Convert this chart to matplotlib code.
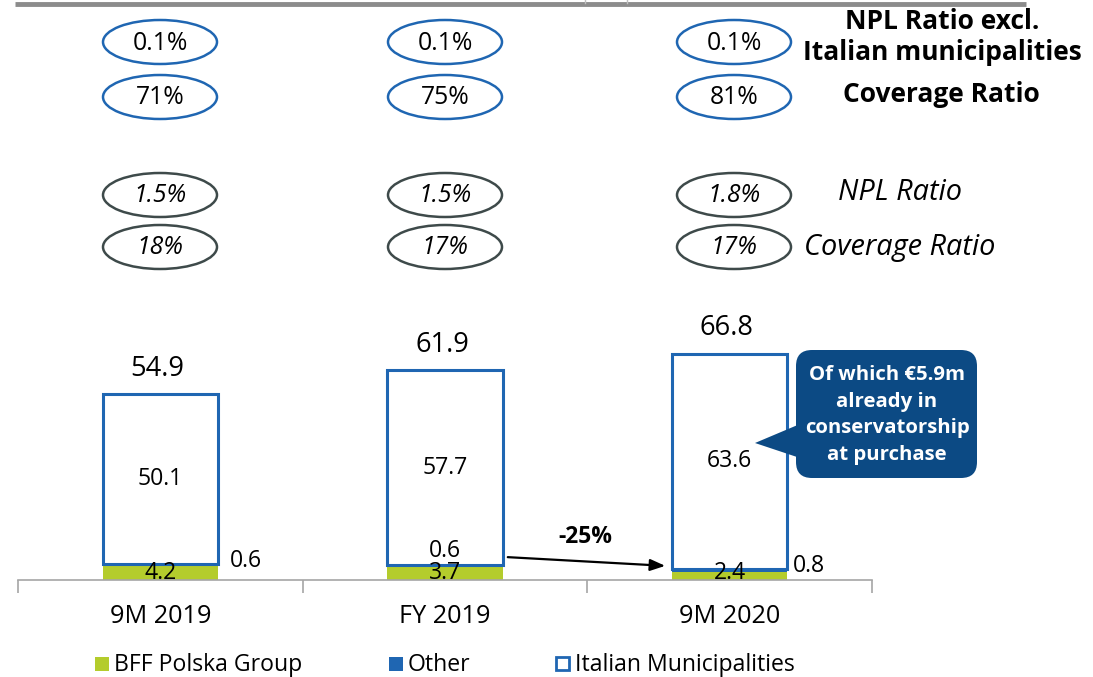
import matplotlib
matplotlib.use("Agg")
import matplotlib.pyplot as plt
from matplotlib.patches import Ellipse, FancyBboxPatch, Polygon, Rectangle

plt.rcParams['font.family'] = ['Open Sans', 'DejaVu Sans']

# data
periods = ["9M 2019", "FY 2019", "9M 2020"]
polska = [4.2, 3.7, 2.4]
other = [0.6, 0.6, 0.8]
italian = [50.1, 57.7, 63.6]
totals = ["54.9", "61.9", "66.8"]
npl_excl = ["0.1%", "0.1%", "0.1%"]
cov_excl = ["71%", "75%", "81%"]
npl_ratio = ["1.5%", "1.5%", "1.8%"]
cov_ratio = ["18%", "17%", "17%"]
change_label = "-25%"
callout_text = "Of which €5.9m\nalready in\nconservatorship\nat purchase"

GREEN = "#B4CC2C"
BLUE = "#1F66B2"
DARK = "#0C4A84"
GRAY_E = "#3E4A4A"

W, H = 1093, 677
fig = plt.figure(figsize=(W / 100, H / 100), dpi=100)

# main bar axes: baseline at y=580px, left 18px, right 872px
base_px = 580
ppu = 3.39
ax = fig.add_axes([18 / W, 1 - base_px / H, (872 - 18) / W, base_px / H])
ax.set_xlim(-0.5, 2.5)
ax.set_ylim(0, base_px / ppu)

x = list(range(len(periods)))
bw = 0.405
ax.bar(x, polska, width=bw, color=GREEN, zorder=2)
bot2 = [p for p in polska]
ax.bar(x, other, width=bw, bottom=bot2, color=BLUE, zorder=3)
bot3 = [p + o for p, o in zip(polska, other)]
ax.bar(x, italian, width=bw, bottom=bot3, facecolor="white", edgecolor=BLUE,
       linewidth=2.2, zorder=3)

for i in x:
    top = polska[i] + other[i] + italian[i]
    ax.text(i - 0.01, top + 7.4, totals[i], ha="center", va="center", fontsize=19.6)
    ax.text(i, bot3[i] + italian[i] / 2, f"{italian[i]:.1f}", ha="center",
            va="center", fontsize=16.6, zorder=5)
    ax.text(i, 2.0, f"{polska[i]:.1f}", ha="center", va="center", fontsize=16.6, zorder=5)

# "Other" labels
ax.text(0.3, 5.6, f"{other[0]:.1f}", ha="center", va="center", fontsize=16.6)
ax.text(1.0, 8.6, f"{other[1]:.1f}", ha="center", va="center", fontsize=16.6, zorder=5)
ax.text(2.28, 4.2, f"{other[2]:.1f}", ha="center", va="center", fontsize=16.6)

for s in ["top", "right", "left"]:
    ax.spines[s].set_visible(False)
ax.spines["bottom"].set_color("#A6A6A6")
ax.spines["bottom"].set_linewidth(1.2)
ax.set_yticks([])
ax.set_xticks([-0.5, 0.5, 1.5, 2.5])
ax.set_xticklabels([])
ax.tick_params(axis="x", length=9, color="#A6A6A6", width=1.2)
for i, p in enumerate(periods):
    ax.text(i, -10.8, p, ha="center", va="center", fontsize=18.2)

# overlay in pixel coordinates
ov = fig.add_axes([0, 0, 1, 1], zorder=10)
ov.set_xlim(0, W)
ov.set_ylim(H, 0)
ov.axis("off")
ov.patch.set_alpha(0)

# top gray rule
ov.plot([15, 1026], [4, 4], color="#8C8C8C", lw=3.5, solid_capstyle="butt")
ov.plot([585, 585], [0, 3], color="#C0C0C0", lw=1)
ov.plot([627, 627], [0, 3], color="#C0C0C0", lw=1)

cx = [160, 445, 734]
rows = [(42, npl_excl, BLUE, "normal"), (97, cov_excl, BLUE, "normal"),
        (195, npl_ratio, GRAY_E, "italic"), (247, cov_ratio, GRAY_E, "italic")]
for yy, vals, col, sty in rows:
    for c, v in zip(cx, vals):
        ov.add_patch(Ellipse((c, yy), 114, 44, facecolor="white", edgecolor=col, lw=1.8))
        ov.text(c, yy + 1, v, ha="center", va="center", fontsize=17.8, style=sty)

ov.text(942, 37, "NPL Ratio excl.\nItalian municipalities", ha="center", va="center",
        fontsize=19, fontweight="bold", linespacing=1.15)
ov.text(941, 95, "Coverage Ratio", ha="center", va="center", fontsize=19, fontweight="bold")
ov.text(900, 193, "NPL Ratio", ha="center", va="center", fontsize=20.8, style="italic")
ov.text(900, 247, "Coverage Ratio", ha="center", va="center", fontsize=20.8, style="italic")

# change arrow
ov.annotate("", xy=(668, 566), xytext=(505, 557),
            arrowprops=dict(arrowstyle="-|>,head_length=0.9,head_width=0.35",
                            color="black", lw=1.6))
ov.text(585, 537, change_label, ha="center", va="center", fontsize=16.5, fontweight="bold")

# callout
ov.add_patch(FancyBboxPatch((796, 350), 181, 128, boxstyle="round,pad=0,rounding_size=16",
                            facecolor=DARK, edgecolor="none"))
ov.add_patch(Polygon([(800, 424), (755, 443), (800, 458)], closed=True,
                     facecolor=DARK, edgecolor="none"))
ov.text(887, 415, callout_text, ha="center", va="center", fontsize=14.7,
        fontweight="bold", color="white", linespacing=1.45)

# legend
ov.add_patch(Rectangle((95, 657), 14, 14, facecolor=GREEN, edgecolor="none"))
ov.text(114, 665, "BFF Polska Group", ha="left", va="center", fontsize=16.6)
ov.add_patch(Rectangle((389, 657), 14, 14, facecolor=BLUE, edgecolor="none"))
ov.text(408, 665, "Other", ha="left", va="center", fontsize=16.6)
ov.add_patch(Rectangle((556, 657), 13, 13, facecolor="white", edgecolor=BLUE, lw=2))
ov.text(575, 665, "Italian Municipalities", ha="left", va="center", fontsize=16.6)

fig.savefig("out.png", dpi=100)
